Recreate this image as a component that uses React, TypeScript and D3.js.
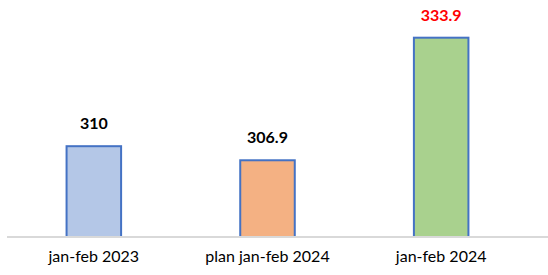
import React from 'react';
import * as d3 from 'd3';

const WIDTH = 548;
const HEIGHT = 275;
const MARGIN = { top: 10, right: 20, bottom: 38, left: 7 };

const CATEGORIES = ['jan-feb 2023', 'plan jan-feb 2024', 'jan-feb 2024'];
const VALUES = [310, 306.9, 333.9];
const VALUE_LABELS = ['310', '306.9', '333.9'];
const FILLS = ['#b4c7e7', '#f4b183', '#a9d18e'];
const LABEL_COLORS = ['#000000', '#000000', '#ff0000'];

const FONT = 'Lato, "Open Sans", sans-serif';

export default function App() {
  const baseY = HEIGHT - MARGIN.bottom;

  const x = d3
    .scaleBand<string>()
    .domain(CATEGORIES)
    .range([MARGIN.left, 528])
    .paddingInner(0.686)
    .paddingOuter(0.343);

  const y = d3.scaleLinear().domain([290, 340]).range([baseY, MARGIN.top]);

  return (
    <svg
      width={WIDTH}
      height={HEIGHT}
      style={{ position: 'absolute', left: 0, top: 0, background: '#fff' }}
    >
      {CATEGORIES.map((c, i) => (
        <rect
          key={c}
          x={x(c)}
          y={y(VALUES[i])}
          width={x.bandwidth()}
          height={baseY - y(VALUES[i])}
          fill={FILLS[i]}
          stroke="#4472c4"
          strokeWidth={2}
        />
      ))}
      <line x1={MARGIN.left} x2={WIDTH} y1={baseY} y2={baseY} stroke="#d9d9d9" strokeWidth={2} />
      {CATEGORIES.map((c, i) => (
        <text
          key={`v-${c}`}
          x={(x(c) ?? 0) + x.bandwidth() / 2}
          y={y(VALUES[i]) - 17}
          textAnchor="middle"
          fontFamily={FONT}
          fontWeight="bold"
          fontSize={16}
          fill={LABEL_COLORS[i]}
        >
          {VALUE_LABELS[i]}
        </text>
      ))}
      {CATEGORIES.map((c) => (
        <text
          key={`x-${c}`}
          x={(x(c) ?? 0) + x.bandwidth() / 2}
          y={HEIGHT - 13}
          textAnchor="middle"
          fontFamily={FONT}
          fontSize={16}
          fill="#000"
        >
          {c}
        </text>
      ))}
    </svg>
  );
}
